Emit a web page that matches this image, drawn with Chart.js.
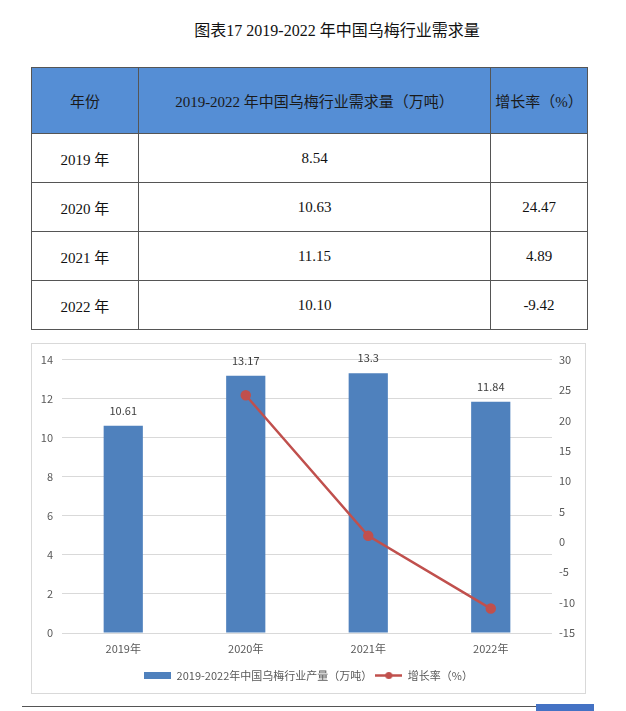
<!DOCTYPE html>
<html>
<head>
<meta charset="utf-8">
<script src="https://cdn.jsdelivr.net/npm/chart.js@4.4.0/dist/chart.umd.min.js"></script>
<style>
  html, body { margin: 0; padding: 0; background: #fff; }
  body { width: 626px; height: 711px; position: relative; overflow: hidden; }
  .title { position: absolute; left: 0; width: 674px; top: 17px; text-align: center;
    font-family: "Liberation Serif", "Noto Sans CJK SC", serif; font-size: 16px; color: #111; white-space: nowrap; }
  table { position: absolute; left: 31px; top: 67px; border-collapse: collapse; table-layout: fixed;
    font-family: "Liberation Serif", "Noto Sans CJK SC", serif; font-size: 15px; color: #111; }
  td, th { border: 1px solid #555; text-align: center; padding: 0; font-weight: normal; white-space: nowrap; }
  th { background: #558ED5; height: 65px; color: #1a1a1a; }
  td { height: 48px; }
  #chartBox { position: absolute; left: 31px; top: 343px; width: 555px; height: 351px;
    border: 1px solid #d9d9d9; box-sizing: border-box; }
  .rule { position: absolute; left: 22px; top: 706px; width: 514px; height: 1px; background: #555; }
  .blk { position: absolute; left: 536px; top: 704px; width: 58px; height: 7px; background: #4472C4; }
</style>
</head>
<body>
<div class="title">图表17 2019-2022 年中国乌梅行业需求量</div>
<table id="tbl">
  <colgroup><col style="width:107px"><col style="width:352px"><col style="width:97px"></colgroup>
  <thead><tr><th>年份</th><th id="h2"></th><th>增长率（%）</th></tr></thead>
  <tbody id="tb"></tbody>
</table>
<div id="chartBox"><canvas id="c"></canvas></div>
<div class="rule"></div>
<div class="blk"></div>
<script>
// ---- table data ----
const tableYears = ['2019 年', '2020 年', '2021 年', '2022 年'];
const demandValues = ['8.54', '10.63', '11.15', '10.10'];
const demandGrowth = ['', '24.47', '4.89', '-9.42'];
const tableHeader = '2019-2022 年中国乌梅行业需求量（万吨）';

// ---- chart data ----
const categories = ['2019年', '2020年', '2021年', '2022年'];
const outputValues = [10.61, 13.17, 13.3, 11.84];
const outputLabels = ['10.61', '13.17', '13.3', '11.84'];
const growthValues = [null, 24.13, 0.99, -10.98];
const barLabel = '2019-2022年中国乌梅行业产量（万吨）';
const lineLabel = '增长率（%）';

document.getElementById('h2').textContent = tableHeader;
const tb = document.getElementById('tb');
tableYears.forEach((y, i) => {
  const tr = document.createElement('tr');
  [y, demandValues[i], demandGrowth[i]].forEach(t => {
    const td = document.createElement('td'); td.textContent = t; tr.appendChild(td);
  });
  tb.appendChild(tr);
});

const BAR = '#4F81BD', LINE = '#C0504D', TXT = '#595959';
const FONT = '"Noto Sans CJK SC", "Noto Sans", sans-serif';

function makeIcon(kind) {
  const dpr = window.devicePixelRatio || 1;
  const c = document.createElement('canvas');
  c.width = 27 * dpr; c.height = 9 * dpr;
  const g = c.getContext('2d'); g.scale(dpr, dpr);
  if (kind === 'bar') { g.fillStyle = BAR; g.fillRect(0, 1, 27, 7); }
  else {
    g.strokeStyle = LINE; g.lineWidth = 2.5; g.beginPath(); g.moveTo(0, 4.5); g.lineTo(27, 4.5); g.stroke();
    g.fillStyle = LINE; g.beginPath(); g.arc(13.5, 4.5, 3.5, 0, Math.PI * 2); g.fill();
  }
  const img = new Image(27, 9);
  img.src = c.toDataURL();
  return img;
}
const barIcon = makeIcon('bar'), lineIcon = makeIcon('line');
const legendIcons = [lineIcon, barIcon];

const labelPlugin = {
  id: 'barLabels',
  afterDatasetsDraw(chart) {
    const meta = chart.getDatasetMeta(1);
    const ctx = chart.ctx;
    ctx.save();
    ctx.font = '11px ' + FONT;
    ctx.fillStyle = '#404040';
    ctx.textAlign = 'center';
    ctx.textBaseline = 'middle';
    meta.data.forEach((el, i) => { ctx.fillText(outputLabels[i], el.x, el.y - 15); });
    ctx.restore();
  }
};

function start() {
  new Chart(document.getElementById('c'), {
    data: {
      labels: categories,
      datasets: [
        { type: 'line', label: lineLabel, data: growthValues, yAxisID: 'y2',
          borderColor: LINE, backgroundColor: LINE, borderWidth: 2.5,
          pointStyle: 'circle', pointRadius: 4, pointBackgroundColor: LINE, pointBorderColor: LINE,
          order: 0 },
        { type: 'bar', label: barLabel, data: outputValues, yAxisID: 'y',
          backgroundColor: BAR, barPercentage: 0.32, categoryPercentage: 1,
          order: 1 }
      ]
    },
    options: {
      responsive: true, maintainAspectRatio: false, animation: false,
      layout: { padding: { top: 10, bottom: 2, left: 0, right: 0 } },
      plugins: {
        tooltip: { enabled: false },
        legend: {
          position: 'bottom',
          labels: {
            usePointStyle: true, pointStyleWidth: 27, padding: 3,
            color: TXT, font: { family: FONT, size: 11 },
            sort: (a, b) => b.datasetIndex - a.datasetIndex,
            generateLabels(chart) {
              return chart.data.datasets.map((ds, i) => ({
                text: ds.label, pointStyle: legendIcons[i], datasetIndex: i,
                fillStyle: ds.backgroundColor, strokeStyle: ds.backgroundColor,
                lineWidth: 0, hidden: false, fontColor: TXT
              }));
            }
          }
        }
      },
      scales: {
        x: {
          grid: { display: false, drawTicks: false }, border: { display: false },
          ticks: { color: TXT, font: { family: FONT, size: 11 }, padding: 9 },
          afterFit(s) { s.height = 34; }
        },
        y: {
          position: 'left', min: 0, max: 14,
          ticks: { stepSize: 2, color: TXT, font: { family: FONT, size: 11 }, padding: 9 },
          grid: { color: '#d9d9d9', drawTicks: false }, border: { display: false },
          afterFit(s) { s.width = 30; }
        },
        y2: {
          position: 'right', min: -15, max: 30,
          ticks: { stepSize: 5, color: TXT, font: { family: FONT, size: 11 }, padding: 7 },
          grid: { display: false, drawTicks: false }, border: { display: false },
          afterFit(s) { s.width = 33; }
        }
      }
    },
    plugins: [labelPlugin]
  });
}
let loaded = 0;
[barIcon, lineIcon].forEach(im => { if (im.complete) { loaded++; } else { im.onload = () => { if (++loaded === 2) start(); }; } });
if (loaded === 2) start();
</script>
</body>
</html>
